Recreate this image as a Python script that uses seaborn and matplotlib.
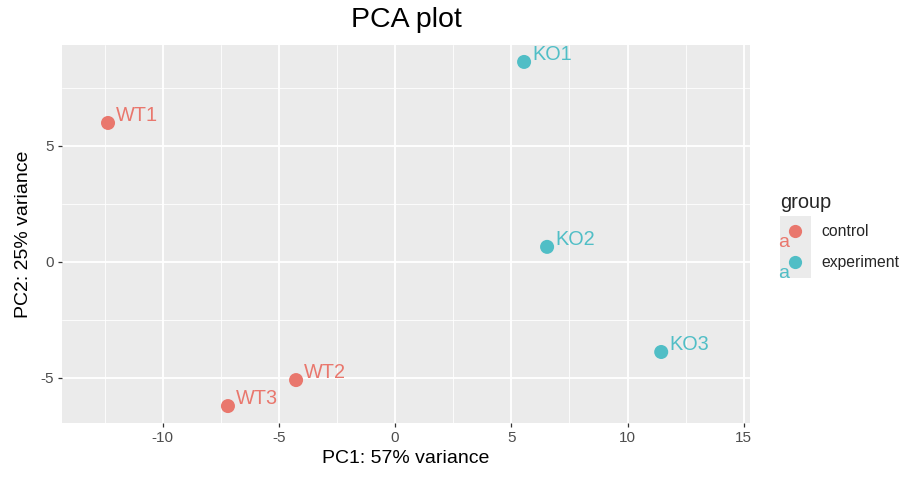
import matplotlib
matplotlib.use("Agg")
import matplotlib.pyplot as plt
from matplotlib.legend_handler import HandlerBase
from matplotlib.lines import Line2D
from matplotlib.patches import Rectangle
from matplotlib.text import Text
from matplotlib.ticker import MultipleLocator
import seaborn as sns
import pandas as pd

# PCA coordinates
samples = ["WT1", "WT2", "WT3", "KO1", "KO2", "KO3"]
groups = ["control", "control", "control", "experiment", "experiment", "experiment"]
pc1 = [-12.35, -4.26, -7.19, 5.55, 6.54, 11.45]
pc2 = [5.99, -5.09, -6.21, 8.62, 0.65, -3.88]

group_order = ["control", "experiment"]
palette = {"control": "#E9776D", "experiment": "#50BEC6"}

df = pd.DataFrame({"name": samples, "group": groups, "PC1": pc1, "PC2": pc2})

sns.set_theme(style="darkgrid")
plt.rcParams["font.family"] = ["Liberation Sans", "DejaVu Sans"]
plt.rcParams["axes.unicode_minus"] = False


class KeyHandler(HandlerBase):
    """ggplot-like legend key: grey box, dot and a little 'a' from geom_text"""
    def __init__(self, color):
        super().__init__()
        self.color = color

    def create_artists(self, legend, orig, xdescent, ydescent, width, height, fontsize, trans):
        x0, y0 = -xdescent, -ydescent
        bg = Rectangle((x0, y0), width, height, facecolor="#EBEBEB", edgecolor="none", transform=trans)
        dot = Line2D([x0 + width / 2], [y0 + height / 2 + 0.5], marker="o", markersize=9.5,
                     markerfacecolor=self.color, markeredgewidth=0, linestyle="none", transform=trans)
        txt = Text(x0 - 1.5, y0 + 0.2, "a", color=self.color, fontsize=14, ha="left", va="baseline",
                   family=["Liberation Sans", "DejaVu Sans"], transform=trans)
        return [bg, dot, txt]


fig = plt.figure(figsize=(9.16, 4.82), dpi=100)
ax = fig.add_axes([62 / 916, 1 - 423 / 482, (750 - 62) / 916, (423 - 45) / 482])
ax.set_facecolor("#EBEBEB")

sns.scatterplot(data=df, x="PC1", y="PC2", hue="group", hue_order=group_order, palette=palette,
                s=102, linewidth=0, ax=ax, zorder=3)

for _, r in df.iterrows():
    ax.annotate(r["name"], (r["PC1"], r["PC2"]), xytext=(5.8, 1.5), textcoords="offset points",
                ha="left", va="baseline", fontsize=14.3, color=palette[r["group"]], zorder=4)

ax.set_xlim(-14.33, 15.27)
ax.set_ylim(-6.94, 9.35)
ax.xaxis.set_major_locator(MultipleLocator(5))
ax.yaxis.set_major_locator(MultipleLocator(5))
ax.xaxis.set_minor_locator(MultipleLocator(2.5))
ax.yaxis.set_minor_locator(MultipleLocator(2.5))
ax.grid(which="major", color="white", linewidth=1.3)
ax.grid(which="minor", color="white", linewidth=0.6)
ax.tick_params(which="major", length=2.6, width=0.9, color="#333333", labelsize=11,
               labelcolor="#4D4D4D", pad=3, bottom=True, left=True)
ax.tick_params(which="minor", length=0)
for s in ax.spines.values():
    s.set_visible(False)

ax.set_xlabel("PC1: 57% variance", fontsize=14, color="black", labelpad=4)
ax.set_ylabel("PC2: 25% variance", fontsize=14, color="black", labelpad=6)
ax.set_title("PCA plot", fontsize=20.5, color="black", pad=13)

handles, labels = ax.get_legend_handles_labels()
leg = ax.legend(handles, labels, title="group", title_fontsize=14.4, fontsize=11.3,
                handler_map={h: KeyHandler(palette[l]) for h, l in zip(handles, labels)},
                handlelength=1.97, handleheight=2.66, handletextpad=0.68, labelspacing=0,
                borderpad=0, borderaxespad=0, frameon=False, alignment="left",
                loc="upper left", bbox_to_anchor=(780 / 916, 1 - 193 / 482),
                bbox_transform=fig.transFigure)
leg._legend_box.sep = 3  # small gap between title and keys

fig.savefig("out.png", dpi=100)
